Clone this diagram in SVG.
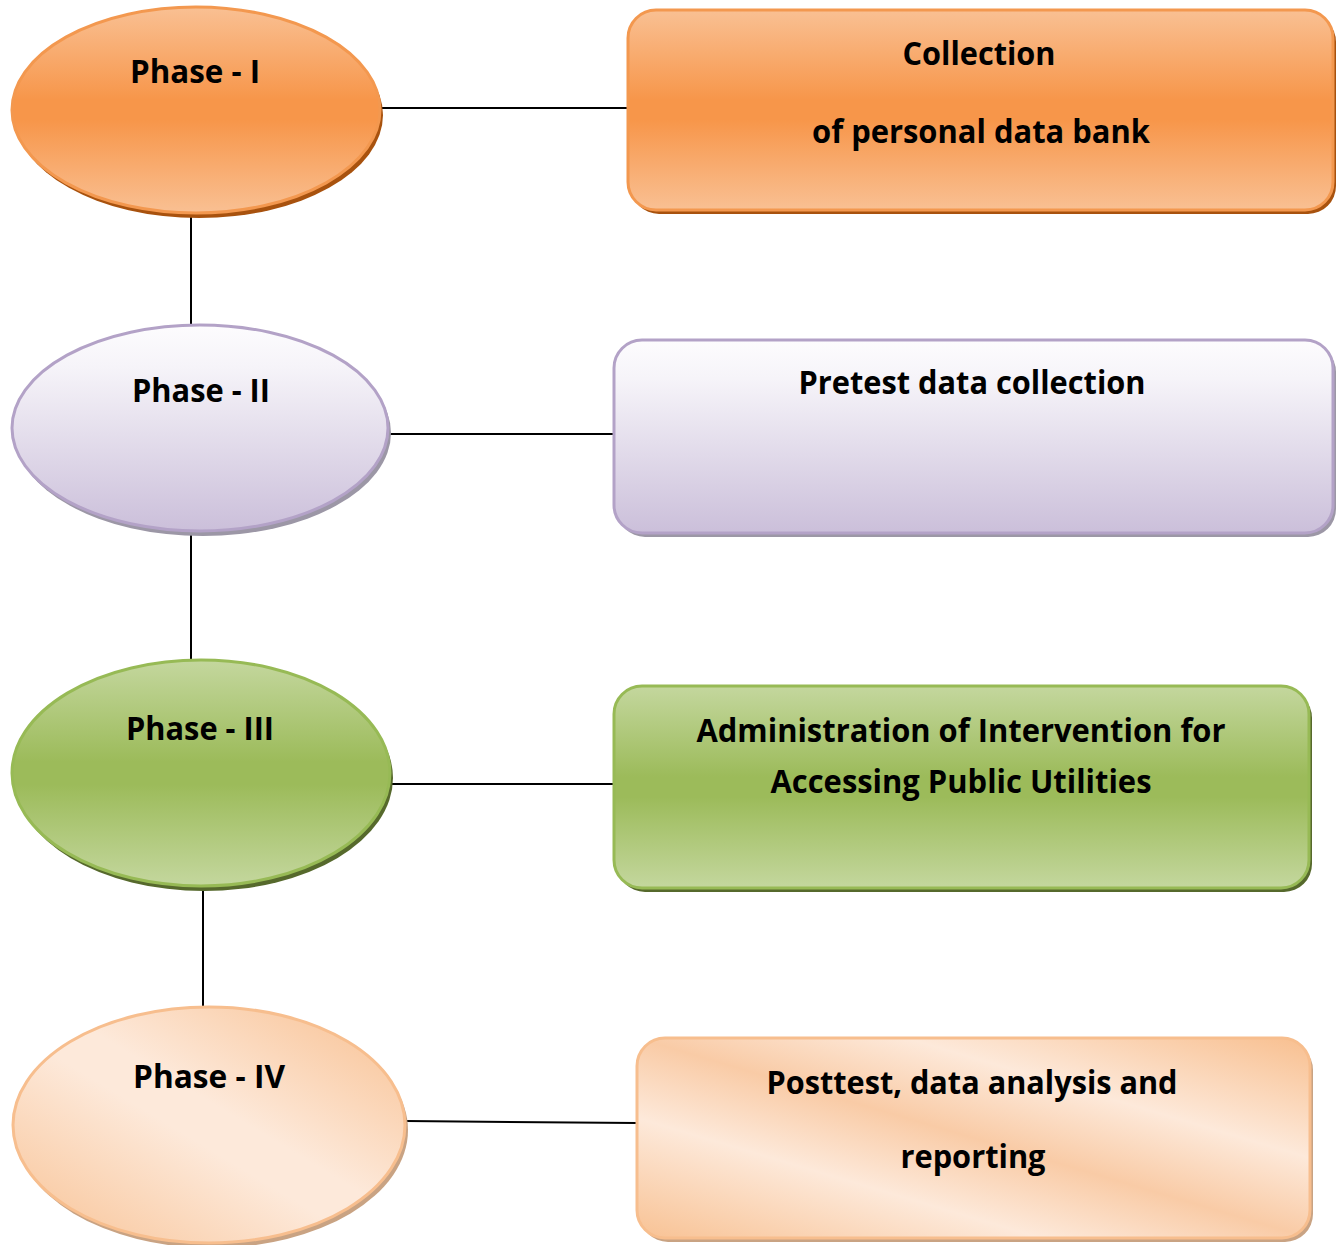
<svg xmlns="http://www.w3.org/2000/svg" width="1344" height="1245" viewBox="0 0 1344 1245">
<defs>
<linearGradient id="gOrange" x1="0" y1="0" x2="0" y2="1">
<stop offset="0" stop-color="#F9C093"/>
<stop offset="0.45" stop-color="#F7964A"/>
<stop offset="0.55" stop-color="#F7964A"/>
<stop offset="1" stop-color="#F9C093"/>
</linearGradient>
<linearGradient id="gPurple" x1="0" y1="0" x2="0" y2="1">
<stop offset="0" stop-color="#FDFCFE"/>
<stop offset="0.2" stop-color="#F6F4F9"/>
<stop offset="1" stop-color="#CBBFDA"/>
</linearGradient>
<linearGradient id="gGreen" x1="0" y1="0" x2="0" y2="1">
<stop offset="0" stop-color="#C4D79E"/>
<stop offset="0.45" stop-color="#9CBB5A"/>
<stop offset="0.55" stop-color="#9CBB5A"/>
<stop offset="1" stop-color="#C4D79E"/>
</linearGradient>
<linearGradient id="gPeach" x1="1" y1="0" x2="0" y2="1">
<stop offset="0" stop-color="#F8BF8F"/>
<stop offset="0.45" stop-color="#FDE9DA"/>
<stop offset="0.55" stop-color="#FDE9DA"/>
<stop offset="1" stop-color="#F8C294"/>
</linearGradient>
<linearGradient id="gPeachBox" x1="1" y1="0" x2="0" y2="1">
<stop offset="0" stop-color="#F8BF8F"/>
<stop offset="0.3" stop-color="#FDE9DA"/>
<stop offset="0.5" stop-color="#F9CBA6"/>
<stop offset="0.7" stop-color="#FDE9DA"/>
<stop offset="1" stop-color="#F8C294"/>
</linearGradient>
</defs>
<style>
.lbl{font-family:"Open Sans","Noto Sans","Liberation Sans",sans-serif;font-weight:700;font-size:32px;fill:#000;text-anchor:middle}
.conn{stroke:#000;stroke-width:2;fill:none}
.o{fill:url(#gOrange);stroke:#F3984F;stroke-width:3}
.os{fill:#A8520E}
.p{fill:url(#gPurple);stroke:#B3A2C7;stroke-width:3}
.ps{fill:#9C97A6}
.g{fill:url(#gGreen);stroke:#97BA55;stroke-width:3}
.gs{fill:#56692C}
.pe{fill:url(#gPeach);stroke:#F7BE8E;stroke-width:3}
.pb{fill:url(#gPeachBox);stroke:#F7BE8E;stroke-width:3}
.pes{fill:#C9A383}
</style>
<g id="connectors">
<line class="conn" x1="380" y1="108" x2="628" y2="108"/>
<line class="conn" x1="191" y1="213" x2="191" y2="325"/>
<line class="conn" x1="388" y1="434" x2="614" y2="434"/>
<line class="conn" x1="191" y1="532" x2="191" y2="660"/>
<line class="conn" x1="390" y1="784" x2="614" y2="784"/>
<line class="conn" x1="203" y1="887" x2="203" y2="1006"/>
<line class="conn" x1="406" y1="1121" x2="637" y2="1123"/>
</g>
<g id="phase1">
<ellipse class="os" cx="199" cy="115" rx="184" ry="103"/>
<ellipse class="o" cx="196" cy="110" rx="184" ry="103"/>
<text class="lbl" x="195" y="83" textLength="130" lengthAdjust="spacingAndGlyphs">Phase - I</text>
</g>
<g id="box1">
<rect class="os" x="631" y="14" width="705" height="200" rx="28"/>
<rect class="o" x="628" y="10" width="705" height="200" rx="28"/>
<text class="lbl" x="979" y="65" textLength="153" lengthAdjust="spacingAndGlyphs">Collection</text>
<text class="lbl" x="981" y="143" textLength="338" lengthAdjust="spacingAndGlyphs">of personal data bank</text>
</g>
<g id="phase2">
<ellipse class="ps" cx="203" cy="433" rx="188" ry="103"/>
<ellipse class="p" cx="200" cy="428" rx="188" ry="103"/>
<text class="lbl" x="201" y="402" textLength="138" lengthAdjust="spacingAndGlyphs">Phase - II</text>
</g>
<g id="box2">
<rect class="ps" x="617" y="344" width="719" height="193" rx="28"/>
<rect class="p" x="614" y="340" width="719" height="193" rx="28"/>
<text class="lbl" x="972" y="394" textLength="347" lengthAdjust="spacingAndGlyphs">Pretest data collection</text>
</g>
<g id="phase3">
<ellipse class="gs" cx="204" cy="778" rx="189" ry="113"/>
<ellipse class="g" cx="201" cy="773" rx="189" ry="113"/>
<text class="lbl" x="200" y="740" textLength="148" lengthAdjust="spacingAndGlyphs">Phase - III</text>
</g>
<g id="box3">
<rect class="gs" x="617" y="690" width="695" height="202" rx="28"/>
<rect class="g" x="614" y="686" width="695" height="202" rx="28"/>
<text class="lbl" x="961" y="742" textLength="529" lengthAdjust="spacingAndGlyphs">Administration of Intervention for</text>
<text class="lbl" x="961" y="793" textLength="381" lengthAdjust="spacingAndGlyphs">Accessing Public Utilities</text>
</g>
<g id="phase4">
<ellipse class="pes" cx="212" cy="1130" rx="196" ry="118"/>
<ellipse class="pe" cx="209" cy="1125" rx="196" ry="118"/>
<text class="lbl" x="209" y="1088" textLength="152" lengthAdjust="spacingAndGlyphs">Phase - IV</text>
</g>
<g id="box4">
<rect class="pes" x="640" y="1042" width="673" height="200" rx="28"/>
<rect class="pb" x="637" y="1038" width="673" height="200" rx="28"/>
<text class="lbl" x="972" y="1094" textLength="411" lengthAdjust="spacingAndGlyphs">Posttest, data analysis and</text>
<text class="lbl" x="973" y="1168" textLength="145" lengthAdjust="spacingAndGlyphs">reporting</text>
</g>
</svg>
